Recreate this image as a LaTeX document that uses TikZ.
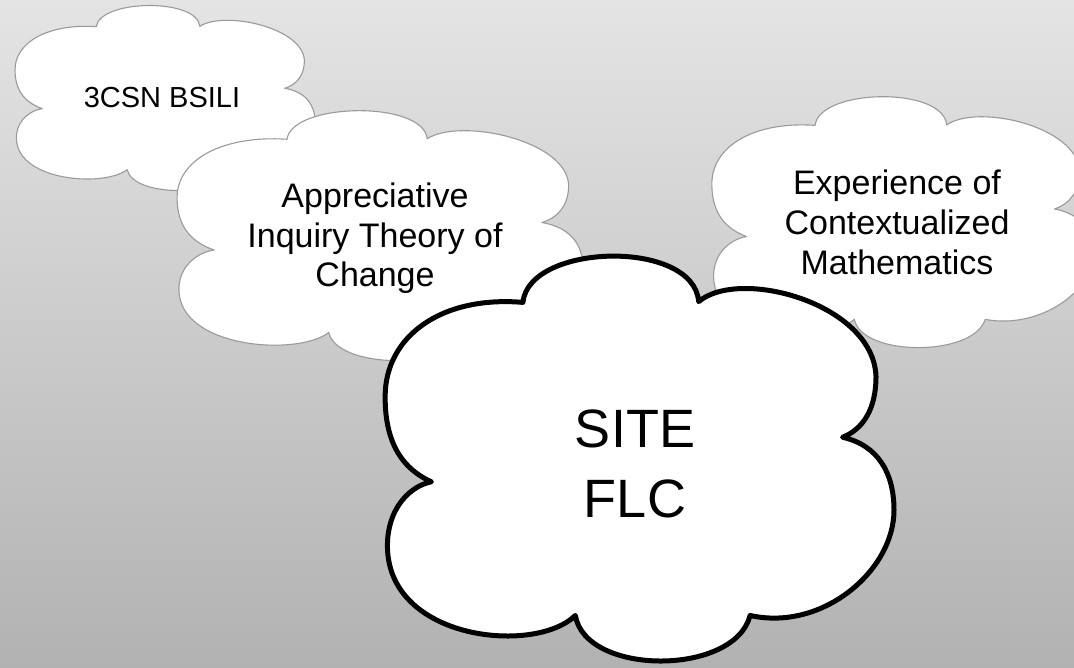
\documentclass[tikz,border=0pt]{standalone}
\usepackage{fontspec}
\setmainfont{Liberation Sans}
\definecolor{bgtop}{HTML}{E4E4E4}
\definecolor{bgbot}{HTML}{B2B2B2}
\definecolor{cloudedge}{HTML}{9A9A9A}
\newcommand{\mycloud}[5]{%
  \begin{scope}[shift={(#1,#2)}, xscale=#3, yscale=#4]
    \path[#5] (0.10,0.56)
      .. controls (0.03,0.52) and (0.01,0.44) .. (0.01,0.35)
      .. controls (0.01,0.20) and (0.12,0.10) .. (0.278,0.117)
      .. controls (0.29,-0.03) and (0.61,-0.04) .. (0.62,0.115)
      .. controls (0.70,0.03) and (0.96,0.12) .. (0.965,0.30)
      .. controls (0.965,0.38) and (0.94,0.43) .. (0.90,0.45)
      .. controls (0.97,0.47) and (1.0,0.54) .. (1.0,0.63)
      .. controls (1.0,0.78) and (0.86,0.93) .. (0.72,0.89)
      .. controls (0.69,1.04) and (0.40,1.04) .. (0.38,0.89)
      .. controls (0.30,0.99) and (0.00,0.95) .. (0.015,0.70)
      .. controls (0.02,0.62) and (0.06,0.57) .. (0.10,0.56) -- cycle;
  \end{scope}}
\tikzset{
  smallcloud/.style={fill=white, draw=cloudedge, line width=1.1pt, line join=round},
  bigcloud/.style={fill=white, draw=black, line width=5pt, line join=round},
  label/.style={inner sep=0pt, align=center, text=black}
}
\begin{document}
\begin{tikzpicture}[x=1pt, y=-1pt]
  \useasboundingbox (0,0) rectangle (1074,667);
  \shade[top color=bgtop, bottom color=bgbot] (0,0) rectangle (1074,667);
  \begin{scope}
    \clip (0,0) rectangle (1074,667);
    \mycloud{12}{5}{303}{185}{smallcloud}
    \node[label, font=\fontsize{29}{34}\selectfont] (bsili) at (162,97.5) {3CSN BSILI};
    \mycloud{173}{110}{410}{250}{smallcloud}
    \node[label, font=\fontsize{34}{39.5}\selectfont] (ai) at (375,238.5) {Appreciative\\Inquiry Theory of\\Change};
    \mycloud{708}{96}{385}{251}{smallcloud}
    \node[label, font=\fontsize{34}{40}\selectfont] (ecm) at (897,222.5) {Experience of\\Contextualized\\Mathematics};
    \mycloud{380}{255}{514}{405}{bigcloud}
    \node[label, font=\fontsize{54}{70}\selectfont] (site) at (635,463.5) {SITE\\FLC};
  \end{scope}
\end{tikzpicture}
\end{document}
